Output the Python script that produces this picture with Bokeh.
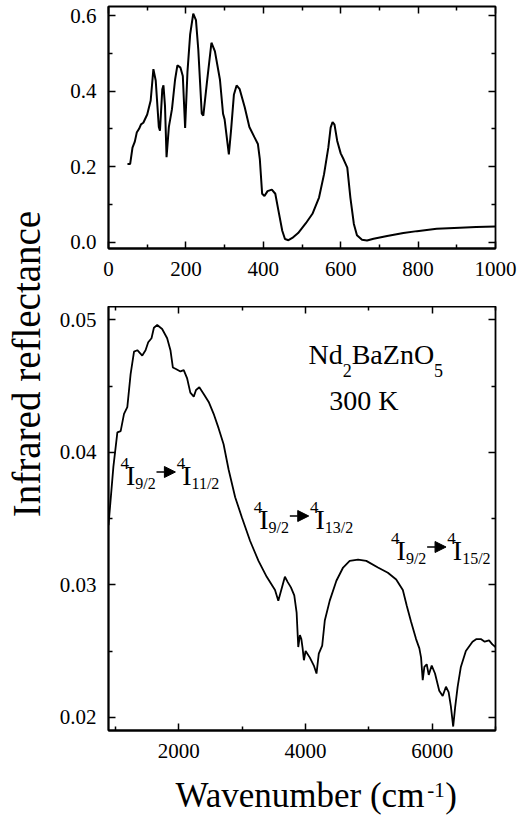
import math
from bokeh.plotting import figure
from bokeh.layouts import row, column
from bokeh.models import (Range1d, FixedTicker, LinearAxis, Label, Arrow,
                          NormalHead, PrintfTickFormatter)
from bokeh.embed import file_html
from bokeh.resources import INLINE

FONT = "Liberation Serif"

# ---------------- data ----------------
top_wavenumber = [49, 56, 62, 68, 73, 79, 84, 90, 100, 109, 116, 122, 130, 133,
                  139, 142, 146, 150, 156, 164, 172, 178, 186, 192, 198, 204,
                  211, 219, 226, 232, 241, 245, 254, 266, 275, 288, 296, 300,
                  311, 317, 324, 331, 339, 352, 364, 377, 386, 391, 397, 403,
                  411, 422, 431, 439, 449, 456, 465, 475, 490, 510, 527, 544,
                  557, 568, 574, 579, 584, 591, 600, 608, 617, 625, 634, 642,
                  655, 668, 685, 720, 762, 797, 848, 908, 950, 1000]
top_reflectance = [0.207, 0.207, 0.250, 0.266, 0.290, 0.300, 0.312, 0.316,
                   0.338, 0.375, 0.458, 0.428, 0.305, 0.295, 0.405, 0.415,
                   0.360, 0.225, 0.305, 0.352, 0.430, 0.468, 0.462, 0.440,
                   0.302, 0.450, 0.550, 0.605, 0.588, 0.510, 0.340, 0.335,
                   0.420, 0.528, 0.505, 0.430, 0.340, 0.325, 0.232, 0.300,
                   0.390, 0.415, 0.405, 0.357, 0.305, 0.278, 0.260, 0.220,
                   0.128, 0.122, 0.135, 0.139, 0.128, 0.084, 0.030, 0.008,
                   0.005, 0.011, 0.024, 0.050, 0.075, 0.118, 0.180, 0.250,
                   0.303, 0.318, 0.311, 0.268, 0.235, 0.218, 0.197, 0.118,
                   0.048, 0.018, 0.006, 0.004, 0.009, 0.016, 0.024, 0.029,
                   0.035, 0.038, 0.040, 0.041]
top_x_ticks = [0, 200, 400, 600, 800, 1000]
top_x_minor = [100, 300, 500, 700, 900]
top_y_ticks = [0.0, 0.2, 0.4, 0.6]
top_y_minor = [0.1, 0.3, 0.5]

bot_wavenumber = [890, 967, 1030, 1082, 1135, 1187, 1239, 1293, 1345, 1423,
                  1475, 1517, 1569, 1607, 1659, 1737, 1816, 1868, 1906, 1947,
                  2026, 2078, 2130, 2182, 2236, 2272, 2324, 2393, 2472, 2550,
                  2629, 2707, 2786, 2890, 2995, 3126, 3258, 3388, 3519, 3571,
                  3675, 3720, 3770, 3823, 3860, 3886, 3912, 3935, 3955, 3975,
                  4002, 4069, 4132, 4174, 4210, 4264, 4305, 4383, 4488, 4594,
                  4698, 4830, 4960, 5144, 5301, 5432, 5537, 5600, 5667, 5746,
                  5798, 5825, 5851, 5877, 5914, 5946, 5993, 6045, 6112, 6166,
                  6218, 6260, 6296, 6332, 6364, 6402, 6453, 6532, 6637, 6700,
                  6768, 6830, 6898, 6950, 7000]
bot_reflectance = [0.0345, 0.0389, 0.0415, 0.0416, 0.0429, 0.0434, 0.0459,
                   0.0476, 0.0477, 0.0473, 0.0477, 0.0483, 0.0486, 0.0494,
                   0.0496, 0.0493, 0.0486, 0.0477, 0.0464, 0.0463, 0.0461,
                   0.0462, 0.0456, 0.0445, 0.0442, 0.0447, 0.0449, 0.0444,
                   0.0438, 0.0429, 0.0418, 0.0406, 0.0387, 0.0366, 0.0351,
                   0.0333, 0.0318, 0.0306, 0.0296, 0.0288, 0.0306, 0.0302,
                   0.0298, 0.0292, 0.0279, 0.0253, 0.0262, 0.0259, 0.0252,
                   0.0243, 0.0250, 0.0245, 0.0239, 0.0233, 0.0248, 0.0254,
                   0.0273, 0.0288, 0.0303, 0.0313, 0.0318, 0.0319, 0.0318,
                   0.0313, 0.0309, 0.0304, 0.0296, 0.0284, 0.0272, 0.0259,
                   0.0252, 0.0245, 0.0228, 0.0238, 0.0240, 0.0232, 0.0239,
                   0.0233, 0.0220, 0.0216, 0.0223, 0.0219, 0.0208, 0.0193,
                   0.0208, 0.0223, 0.0238, 0.0250, 0.0257, 0.0259, 0.0259,
                   0.0257, 0.0258, 0.0255, 0.0253]
bot_x_ticks = [2000, 4000, 6000]
bot_x_minor = [1000, 3000, 5000, 7000]
bot_y_ticks = [0.02, 0.03, 0.04, 0.05]
bot_y_minor = [0.025, 0.035, 0.045]

y_title = "Infrared reflectance"
x_title_parts = ["Wavenumber (cm", "-1", ")"]
compound = [("Nd", "main"), ("2", "sub"), ("BaZnO", "main"), ("5", "sub")]
temperature = "300 K"
transitions = [("9/2", "11/2"), ("9/2", "13/2"), ("9/2", "15/2")]
transition_anchor_x = [1078, 3183, 5351]
transition_anchor_y = [0.03715, 0.03383, 0.03149]

# ---------------- geometry ----------------
TITLE_W = 56
FIG_W = 463
FULL_W = TITLE_W + FIG_W
FRAME_W = 389
TOP_H = 306
BOT_H = 466
XT_H = 44
BOT_XR = (890, 7000)
BOT_YR = (0.0190, 0.0510)
BOT_FRAME_H = 424
DXPP = (BOT_XR[1] - BOT_XR[0]) / FRAME_W
DYPP = (BOT_YR[1] - BOT_YR[0]) / BOT_FRAME_H
MID = 0.52   # baseline -> "middle" anchor, as a fraction of the font size

WIDTHS = {'0': .5, '1': .5, '2': .5, '3': .5, '4': .5, '5': .5, '6': .5,
          '7': .5, '8': .5, '9': .5, '/': .278, 'I': .333, 'N': .722,
          'd': .5, 'B': .667, 'a': .444, 'Z': .611, 'n': .5, 'O': .722,
          'K': .722, ' ': .25, 'W': .944, 'v': .5, 'e': .444, 'u': .5,
          'm': .778, 'b': .5, 'r': .333, '(': .333, ')': .333, 'c': .444,
          '-': .333}


def text_width(t, size):
    return sum(WIDTHS.get(c, .5) for c in t) * size


def style(p, xt, xm, yt, ym, yfmt):
    p.grid.visible = False
    p.outline_line_color = "black"
    p.outline_line_width = 1.8
    p.background_fill_color = "white"
    p.border_fill_color = "white"
    for ax, t, m in ((p.below[0], xt, xm), (p.left[0], yt, ym)):
        ax.ticker = FixedTicker(ticks=t, minor_ticks=m)
        ax.axis_line_width = 1.8
        ax.major_tick_in = 7
        ax.major_tick_out = 0
        ax.minor_tick_in = 4
        ax.minor_tick_out = 0
        ax.major_tick_line_width = 1.5
        ax.minor_tick_line_width = 1.5
        ax.major_label_text_font = FONT
        ax.major_label_text_font_size = "21px"
        ax.major_label_text_color = "black"
    p.below[0].major_label_standoff = 13
    p.left[0].major_label_standoff = 12
    p.left[0].formatter = PrintfTickFormatter(format=yfmt)
    for loc, t, m in (("above", xt, xm), ("right", yt, ym)):
        ax = LinearAxis(ticker=FixedTicker(ticks=t, minor_ticks=m),
                        major_label_overrides={v: "" for v in t},
                        major_label_text_font_size="10px",
                        major_label_standoff=0, major_tick_in=7,
                        major_tick_out=0, minor_tick_in=4, minor_tick_out=0,
                        major_tick_line_width=1.5, minor_tick_line_width=1.5,
                        axis_line_color=None)
        p.add_layout(ax, loc)


def rich(p, x, y, pieces):
    """pieces: (text, size, baseline shift up in px, kerning after)"""
    off = 0.0
    for text, size, dy, kern in pieces:
        if text == "ARROW":
            x0 = x + (off + 1) * DXPP
            x1 = x + (off + size) * DXPP
            yy = y + dy * DYPP
            p.add_layout(Arrow(x_start=x0, y_start=yy, x_end=x1, y_end=yy,
                               line_width=1.3, line_color="black",
                               end=NormalHead(size=11, fill_color="black",
                                              line_color="black",
                                              line_width=1)))
            off += size + 1 + kern
            continue
        p.add_layout(Label(x=x, y=y, x_offset=off,
                           y_offset=dy + MID * size, text=text,
                           text_font=FONT, text_font_size=f"{size}px",
                           text_color="black", text_align="left",
                           text_baseline="middle"))
        off += text_width(text, size) + kern


def blank(width, height):
    f = figure(width=width, height=height, x_range=Range1d(0, width),
               y_range=Range1d(0, height), output_backend="svg",
               toolbar_location=None, x_axis_type=None, y_axis_type=None,
               min_border_left=0, min_border_right=0, min_border_top=0,
               min_border_bottom=0)
    f.grid.visible = False
    f.outline_line_color = None
    return f


# ---------------- top panel ----------------
top = figure(width=FIG_W, height=TOP_H, x_range=Range1d(0, 1000),
             y_range=Range1d(-0.017, 0.624), output_backend="svg",
             toolbar_location=None, min_border_left=50, min_border_right=24,
             min_border_top=6, min_border_bottom=58)
style(top, top_x_ticks, top_x_minor, top_y_ticks, top_y_minor, "%.1f")
top.line(top_wavenumber, top_reflectance, line_color="black", line_width=2)

# ---------------- bottom panel ----------------
bot = figure(width=FIG_W, height=BOT_H, x_range=Range1d(*BOT_XR),
             y_range=Range1d(*BOT_YR), output_backend="svg",
             toolbar_location=None, min_border_left=50, min_border_right=24,
             min_border_top=0, min_border_bottom=BOT_H - BOT_FRAME_H)
style(bot, bot_x_ticks, bot_x_minor, bot_y_ticks, bot_y_minor, "%.2f")
bot.line(bot_wavenumber, bot_reflectance, line_color="black", line_width=1.8)

MAIN, SUP, SUB = 28, 17, 16
for (lo, hi), ax_, ay_ in zip(transitions, transition_anchor_x,
                              transition_anchor_y):
    rich(bot, ax_, ay_, [("4", SUP, 18, -3), ("I", MAIN, 0, 0),
                         (lo, SUB, -2, 0), ("ARROW", 20, 18, 0),
                         ("4", SUP, 18, -3), ("I", MAIN, 0, 0),
                         (hi, SUB, -2, 0)])

comp_pieces = []
for t, kind in compound:
    if kind == "main":
        comp_pieces.append((t, 28, 0, 0))
    else:
        comp_pieces.append((t, 18, -10, 0))
rich(bot, 4047, 0.04625, comp_pieces)
rich(bot, 4377, 0.04277, [(temperature, 28, 0, 0)])

# ---------------- shared y title ----------------
ttl = blank(TITLE_W, TOP_H + BOT_H)
ttl.add_layout(Label(x=26, y=TOP_H + BOT_H - 363.5, text=y_title,
                     angle=math.pi / 2, text_font=FONT,
                     text_font_size="39px", text_color="black",
                     text_align="center", text_baseline="middle"))

# ---------------- x title strip ----------------
xt = blank(FULL_W, XT_H)
rich(xt, 175, 3, [(x_title_parts[0], 35, 0, 0),
                  (x_title_parts[1], 21, 13, 0.5),
                  (x_title_parts[2], 35, 0, 0)])

layout = column(row(ttl, column(top, bot)), xt)
open("out.html", "w").write(file_html(layout, INLINE))
